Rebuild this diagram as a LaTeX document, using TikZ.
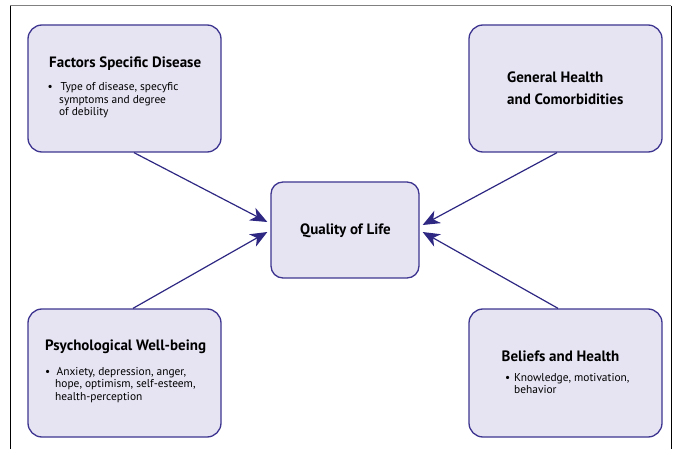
\documentclass[tikz,border=0pt]{standalone}
\usepackage{fontspec}
\setmainfont{PT Sans}
\usetikzlibrary{arrows.meta}
\definecolor{boxfill}{HTML}{E6E4F3}
\definecolor{boxline}{HTML}{3D358F}
\definecolor{arrowc}{HTML}{2E2883}
\begin{document}
\begin{tikzpicture}[x=1pt,y=-1pt,
 box/.style={draw=boxline, fill=boxfill, line width=1.3pt, rounded corners=14pt, inner sep=0pt},
 ttl/.style={font=\fontsize{15}{17}\selectfont\bfseries, anchor=base west, inner sep=0pt, text=black},
 bdy/.style={font=\fontsize{11.4}{13}\selectfont, anchor=base west, inner sep=0pt, text=black},
 arr/.style={draw=arrowc, line width=1.2pt, -{Stealth[length=17pt,width=14pt,inset=5pt]}}
]
\useasboundingbox (0,0) rectangle (675,449);
\draw[gray, line width=1pt] (10,6) -- (671,6);
\draw[black, line width=1pt] (10,449) -- (10,6);
\draw[black, line width=1pt] (671,6) -- (671,449);

\node[box, minimum width=193pt, minimum height=127pt] (tl) at (124.5,88.5) {};
\node[box, minimum width=193pt, minimum height=127pt] (tr) at (565.5,88.5) {};
\node[box, minimum width=193pt, minimum height=128pt] (bl) at (124.5,373) {};
\node[box, minimum width=193pt, minimum height=128pt] (br) at (565.5,373) {};
\node[box, rounded corners=12pt, minimum width=148pt, minimum height=96pt] (q) at (345,230) {};

\draw[arr] ([xshift=9.5pt]tl.south) -- ([xshift=-3pt,yshift=8pt]q.west);
\draw[arr] ([xshift=8.5pt]bl.north) -- ([xshift=-3pt,yshift=-2pt]q.west);
\draw[arr] ([xshift=-8.5pt]tr.south) -- ([xshift=3pt,yshift=5pt]q.east);
\draw[arr] ([xshift=-7.5pt]br.north) -- ([xshift=3pt,yshift=-2pt]q.east);

\node[ttl] (tlt) at (49,67.3) {Factors Specific Disease};
\node[bdy] (tlb) at (47.5,91) {•};
\node[bdy] (tl1) at (60.5,91) {Type of disease, specyfic};
\node[bdy] (tl2) at (59,103.5) {symptoms and degree};
\node[bdy] (tl3) at (59,116) {of debility};

\node[ttl] (trt1) at (507,82.7) {General Health};
\node[ttl] (trt2) at (507,105) {and Comorbidities};

\node[ttl] (qt) at (300,235) {Quality of Life};

\node[ttl] (blt) at (45,350.7) {Psychological Well-being};
\node[bdy] (blb) at (45,375) {•};
\node[bdy] (bl1) at (56.5,375) {Anxiety, depression, anger,};
\node[bdy] (bl2) at (55,387.5) {hope, optimism, self-esteem,};
\node[bdy] (bl3) at (55,400) {health-perception};

\node[ttl] (brt) at (501.5,361) {Beliefs and Health};
\node[bdy] (brb) at (505,381) {•};
\node[bdy] (br1) at (514,381) {Knowledge, motivation,};
\node[bdy] (br2) at (514,393.5) {behavior};
\end{tikzpicture}
\end{document}
